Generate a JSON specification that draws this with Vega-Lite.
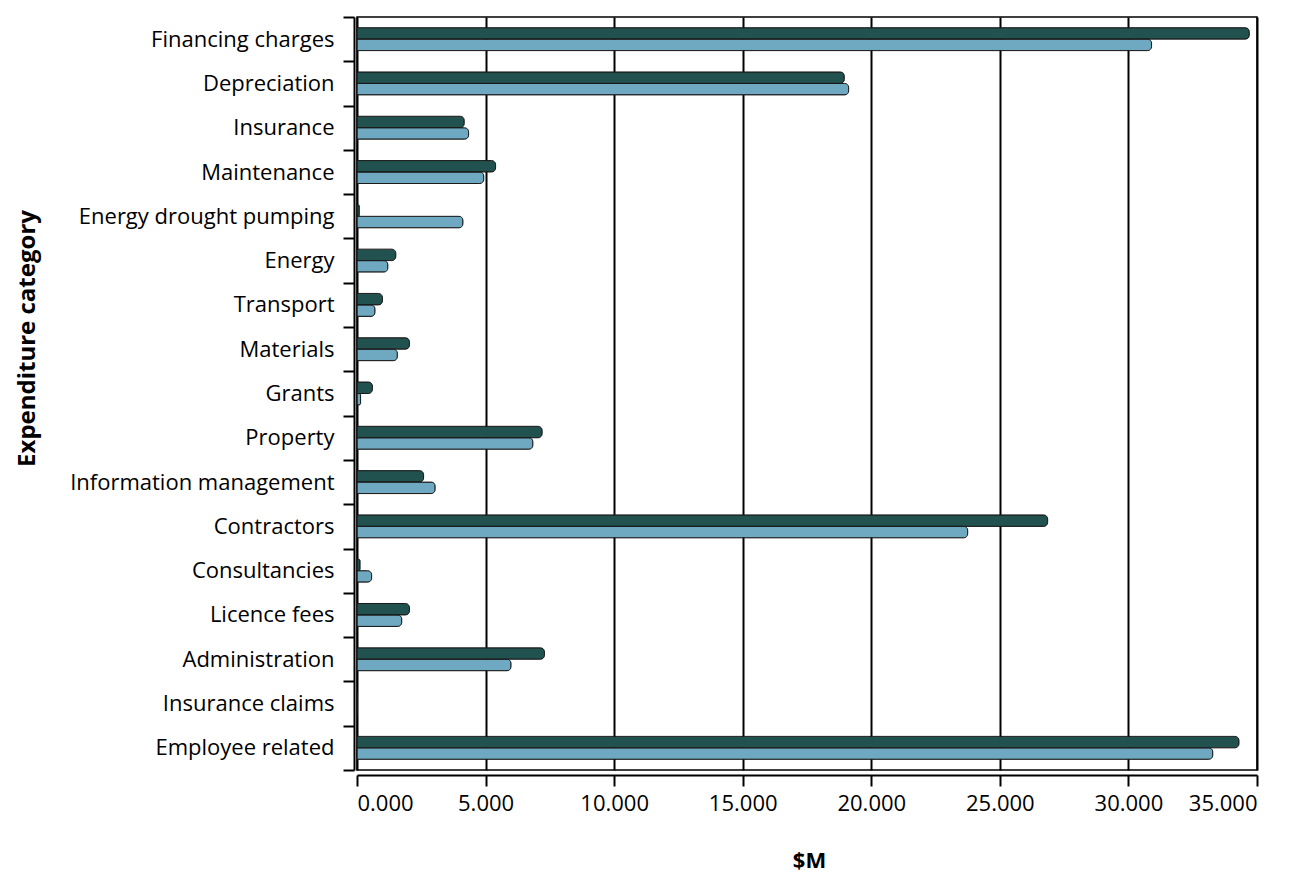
{
  "$schema": "https://vega.github.io/schema/vega-lite/v6.json",
  "width": 900,
  "height": 753,
  "autosize": {"type": "none"},
  "padding": {"left": 357, "top": 17, "right": 33, "bottom": 118},
  "background": "white",
  "config": {
    "font": "Open Sans",
    "view": {"stroke": "black", "strokeWidth": 1.5},
    "axis": {"labelColor": "black", "titleColor": "black", "domainColor": "black", "tickColor": "black"}
  },
  "data": {
    "values": [
      {"category": "Financing charges", "series": "Series 1", "value": 34.7},
      {"category": "Financing charges", "series": "Series 2", "value": 30.9},
      {"category": "Depreciation", "series": "Series 1", "value": 18.95},
      {"category": "Depreciation", "series": "Series 2", "value": 19.12},
      {"category": "Insurance", "series": "Series 1", "value": 4.17},
      {"category": "Insurance", "series": "Series 2", "value": 4.34},
      {"category": "Maintenance", "series": "Series 1", "value": 5.39},
      {"category": "Maintenance", "series": "Series 2", "value": 4.93},
      {"category": "Energy drought pumping", "series": "Series 1", "value": 0.09},
      {"category": "Energy drought pumping", "series": "Series 2", "value": 4.12},
      {"category": "Energy", "series": "Series 1", "value": 1.51},
      {"category": "Energy", "series": "Series 2", "value": 1.2},
      {"category": "Transport", "series": "Series 1", "value": 0.99},
      {"category": "Transport", "series": "Series 2", "value": 0.7},
      {"category": "Materials", "series": "Series 1", "value": 2.04},
      {"category": "Materials", "series": "Series 2", "value": 1.57},
      {"category": "Grants", "series": "Series 1", "value": 0.6},
      {"category": "Grants", "series": "Series 2", "value": 0.14},
      {"category": "Property", "series": "Series 1", "value": 7.2},
      {"category": "Property", "series": "Series 2", "value": 6.84},
      {"category": "Information management", "series": "Series 1", "value": 2.59},
      {"category": "Information management", "series": "Series 2", "value": 3.04},
      {"category": "Contractors", "series": "Series 1", "value": 26.86},
      {"category": "Contractors", "series": "Series 2", "value": 23.75},
      {"category": "Consultancies", "series": "Series 1", "value": 0.12},
      {"category": "Consultancies", "series": "Series 2", "value": 0.57},
      {"category": "Licence fees", "series": "Series 1", "value": 2.04},
      {"category": "Licence fees", "series": "Series 2", "value": 1.74},
      {"category": "Administration", "series": "Series 1", "value": 7.29},
      {"category": "Administration", "series": "Series 2", "value": 5.99},
      {"category": "Insurance claims", "series": "Series 1", "value": 0},
      {"category": "Insurance claims", "series": "Series 2", "value": 0},
      {"category": "Employee related", "series": "Series 1", "value": 34.3},
      {"category": "Employee related", "series": "Series 2", "value": 33.28}
    ]
  },
  "mark": {"type": "bar", "stroke": "#1a1a1a", "strokeWidth": 1, "cornerRadiusEnd": 4},
  "encoding": {
    "y": {
      "field": "category",
      "type": "nominal",
      "sort": null,
      "scale": {"paddingInner": 0, "paddingOuter": 0},
      "axis": {
        "title": "Expenditure category",
        "titleFontSize": 24,
        "titleFontWeight": "bold",
        "titleAngle": -90,
        "titleX": -327,
        "titleY": 321,
        "titleAlign": "center",
        "titleBaseline": "middle",
        "labelFontSize": 22,
        "labelLimit": 400,
        "labelPadding": 9,
        "tickSize": 11,
        "tickWidth": 2,
        "tickBand": "extent",
        "domainWidth": 2,
        "offset": 3
      }
    },
    "x": {
      "field": "value",
      "type": "quantitative",
      "scale": {"domain": [0, 35], "nice": false},
      "axis": {
        "title": "$M",
        "titleFontSize": 22,
        "titleFontWeight": "bold",
        "titleX": 452,
        "titleY": 85,
        "titleAlign": "center",
        "titleBaseline": "middle",
        "values": [0, 5, 10, 15, 20, 25, 30, 35],
        "format": ".3f",
        "labelFontSize": 22,
        "labelPadding": 7,
        "tickSize": 11,
        "tickWidth": 2,
        "domainWidth": 2,
        "offset": 5,
        "grid": true,
        "gridColor": "black",
        "gridWidth": 2,
        "gridOpacity": 1
      }
    },
    "yOffset": {
      "field": "series",
      "type": "nominal",
      "scale": {"paddingOuter": 0.93, "paddingInner": 0}
    },
    "color": {
      "field": "series",
      "type": "nominal",
      "scale": {"domain": ["Series 1", "Series 2"], "range": ["#22524f", "#6ea9c1"]},
      "legend": null
    }
  }
}
